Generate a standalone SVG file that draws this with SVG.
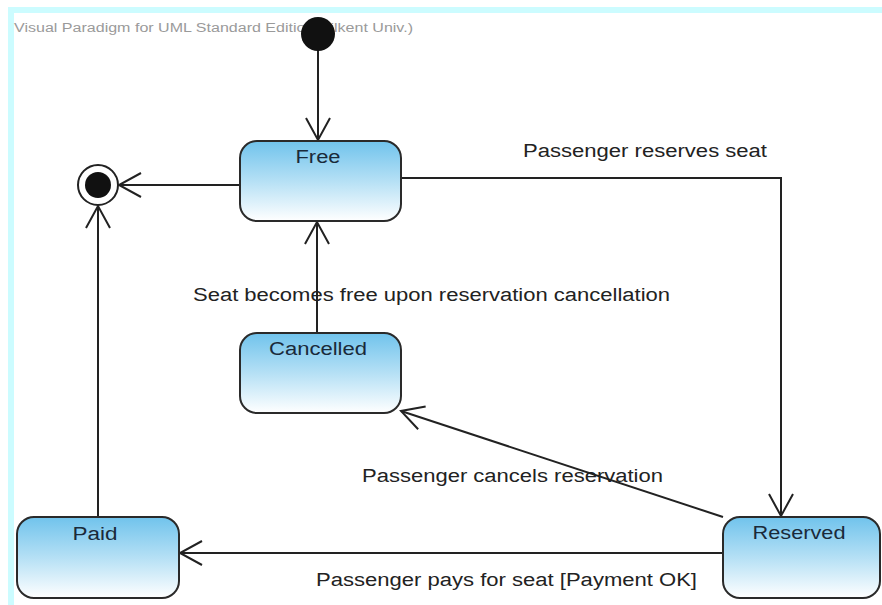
<svg xmlns="http://www.w3.org/2000/svg" width="882" height="605" viewBox="0 0 882 605">
  <style>
    .state { stroke: #2a2a2a; stroke-width: 2; fill: url(#grad); }
    .name { font-family: "Liberation Sans", Arial, sans-serif; font-size: 18px; fill: #1a2a3a; text-anchor: middle; }
    .lbl { font-family: "Liberation Sans", Arial, sans-serif; font-size: 18px; fill: #222; }
    .edge { stroke: #222; stroke-width: 2; fill: none; }
    .wm { font-family: "Liberation Sans", Arial, sans-serif; font-size: 12px; fill: #9a9a9a; }
  </style>
  <defs>
    <linearGradient id="grad" x1="0" y1="0" x2="0" y2="1">
      <stop offset="0" stop-color="#70c3ec"/>
      <stop offset="0.5" stop-color="#b5e0f5"/>
      <stop offset="1" stop-color="#ffffff"/>
    </linearGradient>
    <marker id="open" markerUnits="userSpaceOnUse" markerWidth="40" markerHeight="40" refX="0" refY="0" orient="auto" viewBox="-30 -20 40 40" overflow="visible">
      <path d="M-22,-12 L0,0 L-22,12" fill="none" stroke="#222" stroke-width="2"/>
    </marker>
  </defs>
  <rect x="0" y="0" width="882" height="605" fill="#ffffff"/>
  <rect x="8" y="7" width="874" height="6" fill="#ccfcff"/>
  <rect x="8" y="7" width="6" height="598" fill="#ccfcff"/>
  <text class="wm" x="14" y="32" textLength="399" lengthAdjust="spacingAndGlyphs">Visual Paradigm for UML Standard Edition(Bilkent Univ.)</text>

  <g id="connectors">
    <line class="edge" x1="318" y1="50" x2="318" y2="140" marker-end="url(#open)"/>
    <line class="edge" x1="240" y1="185" x2="119" y2="185" marker-end="url(#open)"/>
    <polyline class="edge" points="401,178 781,178 781,516" marker-end="url(#open)"/>
    <line class="edge" x1="317" y1="333" x2="317" y2="222" marker-end="url(#open)"/>
    <line class="edge" x1="723" y1="517" x2="401" y2="411" marker-end="url(#open)"/>
    <line class="edge" x1="723" y1="553" x2="180" y2="553" marker-end="url(#open)"/>
    <line class="edge" x1="98" y1="517" x2="98" y2="206" marker-end="url(#open)"/>
    <text class="lbl" x="523" y="157" textLength="244" lengthAdjust="spacingAndGlyphs">Passenger reserves seat</text>
    <text class="lbl" x="193" y="301" textLength="477" lengthAdjust="spacingAndGlyphs">Seat becomes free upon reservation cancellation</text>
    <text class="lbl" x="362" y="482" textLength="301" lengthAdjust="spacingAndGlyphs">Passenger cancels reservation</text>
    <text class="lbl" x="316" y="586" textLength="381" lengthAdjust="spacingAndGlyphs">Passenger pays for seat [Payment OK]</text>
  </g>

  <g id="initial">
    <circle cx="318" cy="34" r="17" fill="#111"/>
  </g>
  <g id="final">
    <circle cx="98" cy="185" r="20" fill="#fff" stroke="#222" stroke-width="2"/>
    <circle cx="98" cy="185" r="13" fill="#111"/>
  </g>
  <g id="free">
    <rect class="state" x="240" y="141" width="161" height="80" rx="17"/>
    <text class="name" x="318" y="163" textLength="45" lengthAdjust="spacingAndGlyphs">Free</text>
  </g>
  <g id="cancelled">
    <rect class="state" x="240" y="333" width="161" height="80" rx="17"/>
    <text class="name" x="318" y="355" textLength="98" lengthAdjust="spacingAndGlyphs">Cancelled</text>
  </g>
  <g id="paid">
    <rect class="state" x="17" y="517" width="162" height="81" rx="17"/>
    <text class="name" x="95" y="540" textLength="45" lengthAdjust="spacingAndGlyphs">Paid</text>
  </g>
  <g id="reserved">
    <rect class="state" x="723" y="517" width="157" height="81" rx="17"/>
    <text class="name" x="799" y="539" textLength="93" lengthAdjust="spacingAndGlyphs">Reserved</text>
  </g>
</svg>
